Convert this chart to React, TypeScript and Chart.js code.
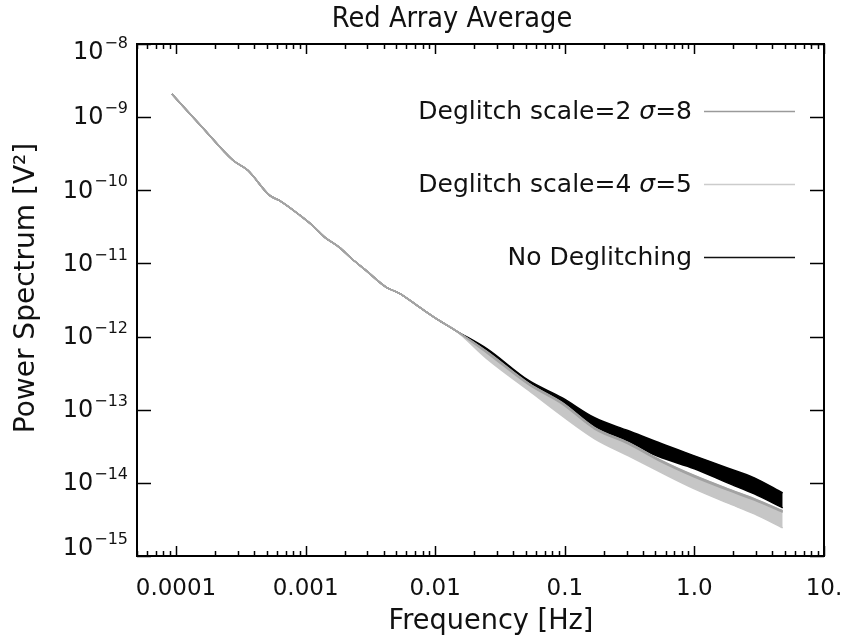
import React, { useEffect, useRef } from 'react';
import { Chart, registerables } from 'chart.js';

Chart.register(...registerables);

// ---- data ----
const chartTitle = 'Red Array Average';
const xTitle = 'Frequency [Hz]';
const yTitle = 'Power Spectrum [V²]';

const xMin = 5e-5;
const xMax = 10;
const yMin = 1e-15;
const yMax = 1e-8;

const xTickValues = [1e-4, 1e-3, 1e-2, 1e-1, 1, 10];
const xTickLabels = ['0.0001', '0.001', '0.01', '0.1', '1.0', '10.'];
const yTickExponents = [-8, -9, -10, -11, -12, -13, -14, -15];

// shared low-frequency part (all three curves coincide)
const freqLow = [9.3e-5, 1.58e-4, 2.75e-4, 3.58e-4, 5.28e-4, 6.3e-4, 9.0e-4, 1.13e-3, 1.4e-3, 1.82e-3, 2.26e-3, 2.95e-3, 4.2e-3, 5.3e-3, 7.6e-3, 1.07e-2, 1.45e-2];
const powerLow = [2.07e-9, 7.4e-10, 2.57e-10, 1.88e-10, 8.5e-11, 7.2e-11, 4.57e-11, 3.3e-11, 2.29e-11, 1.66e-11, 1.17e-11, 7.9e-12, 4.7e-12, 3.9e-12, 2.5e-12, 1.66e-12, 1.2e-12];

// high-frequency part: noisy bands given by their upper / lower envelopes
const freqHigh = [0.025, 0.053, 0.095, 0.17, 0.31, 0.56, 1.0, 1.8, 2.9, 4.8];
const noDeglitchUpper = [6.85e-13, 2.49e-13, 1.46e-13, 7.76e-14, 5.15e-14, 3.42e-14, 2.34e-14, 1.6e-14, 1.17e-14, 7.29e-15];
const noDeglitchLower = [5.66e-13, 2.07e-13, 1.06e-13, 5.5e-14, 3.42e-14, 2.2e-14, 1.56e-14, 1.0e-14, 7.06e-15, 4.55e-15];
const scale4Upper = [6.24e-13, 2.27e-13, 1.25e-13, 5.66e-14, 3.53e-14, 2.0e-14, 1.25e-14, 8.28e-15, 6.04e-15, 4.13e-15];
const scale4Lower = [5.0e-13, 1.82e-13, 8.28e-14, 4.01e-14, 2.34e-14, 1.37e-14, 8.28e-15, 5.32e-15, 3.76e-15, 2.42e-15];
const scale2Upper = [6.26e-13, 2.28e-13, 1.26e-13, 5.7e-14, 3.55e-14, 2.01e-14, 1.26e-14, 8.34e-15, 6.08e-15, 4.16e-15];
const scale2Lower = [6.0e-13, 2.18e-13, 1.2e-13, 5.45e-14, 3.4e-14, 1.92e-14, 1.2e-14, 7.95e-15, 5.8e-15, 3.97e-15];

const seriesNames = ['Deglitch scale=2 ', 'Deglitch scale=4 ', 'No Deglitching'];
const seriesSigma = ['8', '5', ''];
const seriesColors = ['#9a9a9a', '#cccccc', '#111111'];

const FONT = '"DejaVu Sans", sans-serif';

function buildPoints(upperOrLower: number[]) {
  const pts: { x: number; y: number }[] = [];
  freqLow.forEach((f, i) => pts.push({ x: f, y: powerLow[i] }));
  freqHigh.forEach((f, i) => pts.push({ x: f, y: upperOrLower[i] }));
  return pts;
}

function scaledText(ctx: CanvasRenderingContext2D, s: string, x: number, y: number, font: string, sx: number, rot = 0) {
  ctx.save();
  ctx.translate(x, y);
  if (rot) ctx.rotate(rot);
  ctx.scale(sx, 1);
  ctx.font = font;
  ctx.textAlign = 'center';
  ctx.textBaseline = 'middle';
  ctx.fillText(s, 0, 0);
  ctx.restore();
}

const framePlugin = {
  id: 'frameAndLabels',
  afterDraw(chart: any) {
    const ctx: CanvasRenderingContext2D = chart.ctx;
    const { left, right, top, bottom } = chart.chartArea;
    const xs = chart.scales.x;
    const ys = chart.scales.y;
    ctx.save();
    ctx.strokeStyle = '#000';
    ctx.fillStyle = '#111';
    const line = (x1: number, y1: number, x2: number, y2: number) => {
      ctx.beginPath();
      ctx.moveTo(x1, y1);
      ctx.lineTo(x2, y2);
      ctx.stroke();
    };
    // frame
    ctx.lineWidth = 2;
    ctx.strokeRect(left, top, right - left, bottom - top);
    // x ticks (major + minor, bottom and top)
    ctx.lineWidth = 1.5;
    for (let e = -5; e <= 1; e++) {
      for (let m = 1; m <= 9; m++) {
        const v = m * Math.pow(10, e);
        if (v < xMin * 0.999 || v > xMax * 1.001) continue;
        const px = Math.round(xs.getPixelForValue(v)) + 0.5;
        const len = m === 1 ? 10 : 5;
        line(px, bottom, px, bottom - len);
        line(px, top, px, top + len);
      }
    }
    // y ticks (left and right)
    yTickExponents.forEach((e) => {
      const py = Math.round(ys.getPixelForValue(Math.pow(10, e))) + 0.5;
      line(left, py, left + 14, py);
      line(right, py, right - 14, py);
    });

    // x tick labels
    ctx.textAlign = 'center';
    ctx.textBaseline = 'middle';
    ctx.font = `23px ${FONT}`;
    xTickValues.forEach((v, i) => {
      const px = xs.getPixelForValue(v);
      ctx.fillText(xTickLabels[i], px, bottom + 33);
    });

    // y tick labels: 10^exp
    yTickExponents.forEach((e) => {
      let py = ys.getPixelForValue(Math.pow(10, e));
      py = Math.min(Math.max(py, top + 8), bottom - 8);
      const base = '10';
      const sup = '\u2212' + String(-e);
      ctx.font = `24px ${FONT}`;
      const wb = ctx.measureText(base).width;
      ctx.font = `16px ${FONT}`;
      const ws = ctx.measureText(sup).width;
      const xr = left - 9;
      const x0 = xr - wb - ws - 1;
      ctx.textAlign = 'left';
      ctx.textBaseline = 'middle';
      ctx.font = `24px ${FONT}`;
      ctx.fillText(base, x0, py + 1);
      ctx.font = `16px ${FONT}`;
      ctx.fillText(sup, x0 + wb + 1, py - 8);
    });

    // title
    scaledText(ctx, chartTitle, 452, 20, `28px ${FONT}`, 0.92);

    // x title
    scaledText(ctx, xTitle, 491, bottom + 66, `28px ${FONT}`, 0.97);

    // y title
    scaledText(ctx, yTitle, 27, 288, `28px ${FONT}`, 1.0, -Math.PI / 2);

    // legend (inside plot, right side)
    const legendY = [111, 184, 257];
    const textRight = 692;
    const lineX1 = 704;
    const lineX2 = 795;
    seriesNames.forEach((name, i) => {
      const y = legendY[i];
      ctx.textBaseline = 'alphabetic';
      ctx.textAlign = 'left';
      const normal = `25px ${FONT}`;
      const italic = `italic 25px ${FONT}`;
      let parts: { t: string; f: string }[];
      if (seriesSigma[i]) {
        parts = [
          { t: name, f: normal },
          { t: '\u03c3', f: italic },
          { t: '=' + seriesSigma[i], f: normal },
        ];
      } else {
        parts = [{ t: name, f: normal }];
      }
      let total = 0;
      parts.forEach((p) => {
        ctx.font = p.f;
        total += ctx.measureText(p.t).width;
      });
      let x = textRight - total;
      parts.forEach((p) => {
        ctx.font = p.f;
        ctx.fillText(p.t, x, y + 8);
        x += ctx.measureText(p.t).width;
      });
      ctx.strokeStyle = seriesColors[i];
      ctx.lineWidth = 1.6;
      line(lineX1, y + 0.5, lineX2, y + 0.5);
    });
    ctx.restore();
  },
};

export default function App() {
  const ref = useRef<HTMLCanvasElement>(null);
  useEffect(() => {
    const canvas = ref.current;
    if (!canvas) return;
    const band = (label: string, color: string, up: number[], lo: number[], width: number) => [
      {
        label: label + ' upper',
        data: buildPoints(up),
        borderColor: color,
        backgroundColor: color,
        borderWidth: width,
        pointRadius: 0,
        cubicInterpolationMode: 'monotone',
        fill: false,
      },
      {
        label: label + ' lower',
        data: buildPoints(lo),
        borderColor: color,
        backgroundColor: color,
        borderWidth: width,
        pointRadius: 0,
        cubicInterpolationMode: 'monotone',
        fill: '-1',
      },
    ];
    const datasets: any[] = [
      ...band('scale2', '#a3a3a3', scale2Upper, scale2Lower, 1.5),
      ...band('scale4', '#c6c6c6', scale4Upper, scale4Lower, 1.5),
      ...band('none', '#000000', noDeglitchUpper, noDeglitchLower, 1.5),
    ];
    const chart = new Chart(canvas, {
      type: 'line',
      data: { datasets },
      options: {
        responsive: false,
        animation: false,
        devicePixelRatio: 1,
        layout: { padding: { left: 137, right: 21, top: 44, bottom: 86 } },
        scales: {
          x: { type: 'logarithmic', min: xMin, max: xMax, display: false },
          y: { type: 'logarithmic', min: yMin, max: yMax, display: false },
        },
        plugins: {
          legend: { display: false },
          tooltip: { enabled: false },
        },
        elements: { point: { radius: 0 } },
      },
      plugins: [framePlugin],
    } as any);
    return () => chart.destroy();
  }, []);
  return (
    <div style={{ position: 'absolute', left: 0, top: 0, width: 845, height: 642, background: '#fff' }}>
      <canvas ref={ref} width={845} height={642} style={{ display: 'block' }} />
    </div>
  );
}
